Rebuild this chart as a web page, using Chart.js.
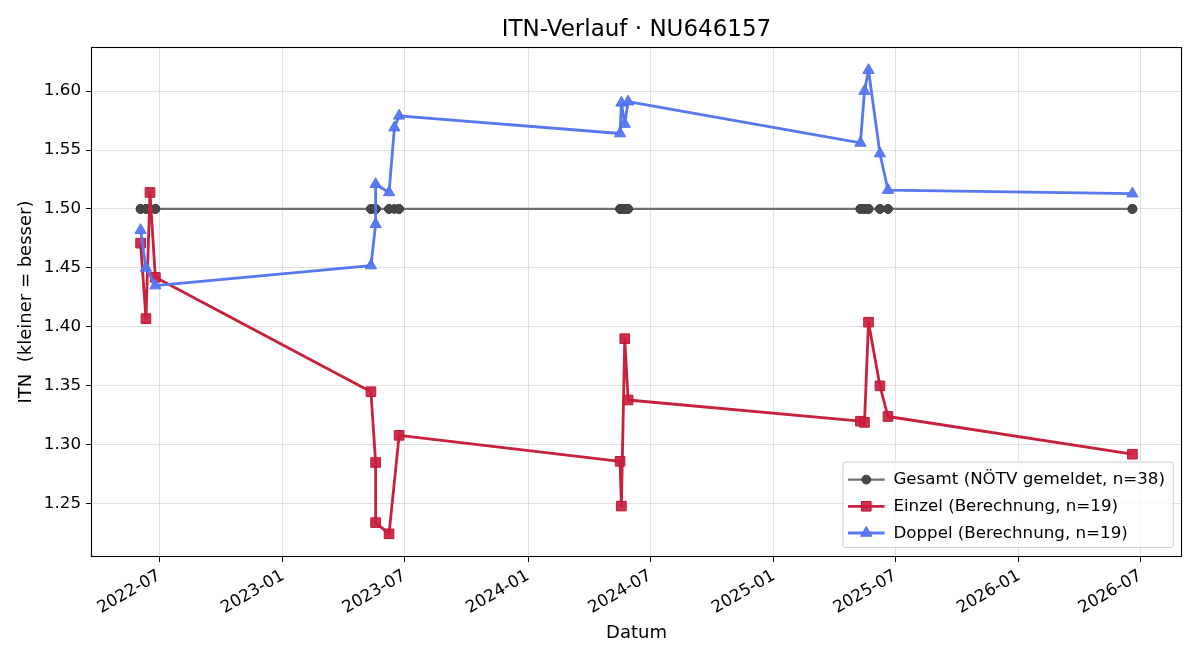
<!DOCTYPE html>
<html>
<head>
<meta charset="utf-8">
<title>ITN-Verlauf</title>
<script src="https://cdn.jsdelivr.net/npm/chart.js@4/dist/chart.umd.min.js"></script>
<style>
  html, body { margin: 0; padding: 0; background: #fff; }
  #chart { display: block; }
</style>
</head>
<body>
<canvas id="chart" width="1200" height="660"></canvas>
<script>
/* Data */
const titleText = 'ITN-Verlauf \u00b7 NU646157';
const xTitle = 'Datum';
const yTitle = 'ITN  (kleiner = besser)';

const xTickLabels = ['2022-07', '2023-01', '2023-07', '2024-01', '2024-07', '2025-01', '2025-07', '2026-01', '2026-07'];
const yTickValues = [1.25, 1.30, 1.35, 1.40, 1.45, 1.50, 1.55, 1.60];

const einzelDates = [
  '2022-06-03', '2022-06-11', '2022-06-17', '2022-06-25',
  '2023-05-12', '2023-05-19', '2023-05-19', '2023-06-08', '2023-06-23',
  '2024-05-17', '2024-05-19', '2024-05-24', '2024-05-29',
  '2025-05-10', '2025-05-16', '2025-05-22', '2025-06-08', '2025-06-20',
  '2026-06-19'
];
const einzelValues = [
  1.471, 1.407, 1.514, 1.442,
  1.345, 1.285, 1.234, 1.2245, 1.308,
  1.286, 1.248, 1.390, 1.338,
  1.320, 1.319, 1.404, 1.350, 1.324,
  1.292
];

const doppelDates = [
  '2022-06-03', '2022-06-11', '2022-06-25',
  '2023-05-12', '2023-05-19', '2023-05-19', '2023-06-08', '2023-06-16', '2023-06-23',
  '2024-05-17', '2024-05-19', '2024-05-24', '2024-05-29',
  '2025-05-10', '2025-05-16', '2025-05-22', '2025-06-08', '2025-06-20',
  '2026-06-19'
];
const doppelValues = [
  1.482, 1.450, 1.435,
  1.452, 1.487, 1.521, 1.514, 1.569, 1.579,
  1.564, 1.590, 1.572, 1.591,
  1.556, 1.600, 1.6177, 1.547, 1.516,
  1.513
];

const gesamtDates = [
  '2022-06-03', '2022-06-03', '2022-06-11', '2022-06-11', '2022-06-17', '2022-06-25', '2022-06-25',
  '2023-05-12', '2023-05-12', '2023-05-19', '2023-05-19', '2023-05-19', '2023-05-19',
  '2023-06-08', '2023-06-08', '2023-06-16', '2023-06-23', '2023-06-23',
  '2024-05-17', '2024-05-17', '2024-05-19', '2024-05-19', '2024-05-24', '2024-05-24', '2024-05-29', '2024-05-29',
  '2025-05-10', '2025-05-10', '2025-05-16', '2025-05-16', '2025-05-22', '2025-05-22',
  '2025-06-08', '2025-06-08', '2025-06-20', '2025-06-20',
  '2026-06-19', '2026-06-19'
];
const gesamtValues = [
  1.5, 1.5, 1.5, 1.5, 1.5, 1.5, 1.5,
  1.5, 1.5, 1.5, 1.5, 1.5, 1.5,
  1.5, 1.5, 1.5, 1.5, 1.5,
  1.5, 1.5, 1.5, 1.5, 1.5, 1.5, 1.5, 1.5,
  1.5, 1.5, 1.5, 1.5, 1.5, 1.5,
  1.5, 1.5, 1.5, 1.5,
  1.5, 1.5
];

/* Helpers */
const toMs = s => Date.parse(s + 'T00:00:00Z');
const pts = (dates, vals) => dates.map((d, i) => ({ x: toMs(d), y: vals[i] }));
const FONT = '"DejaVu Sans", "Liberation Sans", sans-serif';

// matplotlib-style 5% autoscale margins
function padRange(vals) {
  const lo = Math.min(...vals), hi = Math.max(...vals), m = (hi - lo) * 0.05;
  return [lo - m, hi + m];
}
const allX = [...gesamtDates, ...einzelDates, ...doppelDates].map(toMs);
const allY = [...gesamtValues, ...einzelValues, ...doppelValues];
const [xMin, xMax] = padRange(allX);
const [yMin, yMax] = padRange(allY);
const xTickValues = xTickLabels.map(s => toMs(s + '-01'));

/* Plugins: axes frame + title, legend box in lower right */
const frameTitle = {
  id: 'frameTitle',
  afterDraw(chart) {
    const { ctx, chartArea: a } = chart;
    ctx.save();
    ctx.strokeStyle = '#000';
    ctx.lineWidth = 1.1;
    ctx.strokeRect(Math.round(a.left) + 0.5, Math.round(a.top) + 0.5,
                   Math.round(a.right - a.left) - 1, Math.round(a.bottom - a.top) - 1);
    ctx.fillStyle = '#000';
    ctx.font = '23px ' + FONT;
    ctx.textAlign = 'center';
    ctx.textBaseline = 'alphabetic';
    ctx.fillText(titleText, (a.left + a.right) / 2, a.top - 11);
    ctx.restore();
  }
};

const boxLegend = {
  id: 'boxLegend',
  afterDraw(chart) {
    const { ctx, chartArea: a } = chart;
    const sets = chart.data.datasets;
    ctx.save();
    ctx.font = '16.7px ' + FONT;
    const textW = Math.max(...sets.map(d => ctx.measureText(d.label).width));
    const right = a.right - 8.7, bottom = a.bottom - 9.4;
    const rowH = 26.7;
    const h = 85.6, w = 50.5 + textW + 8.3;
    const left = right - w, top = bottom - h;
    // box
    ctx.beginPath();
    ctx.roundRect(left, top, w, h, 3);
    ctx.fillStyle = 'rgba(255,255,255,0.8)';
    ctx.fill();
    ctx.strokeStyle = '#cccccc';
    ctx.lineWidth = 1;
    ctx.stroke();
    sets.forEach((d, i) => {
      const y = top + 17.6 + i * rowH;
      const x0 = left + 5, x1 = left + 41.7, xm = (x0 + x1) / 2;
      ctx.strokeStyle = d.borderColor;
      ctx.lineWidth = d.borderWidth;
      ctx.beginPath(); ctx.moveTo(x0, y); ctx.lineTo(x1, y); ctx.stroke();
      ctx.fillStyle = d.pointBackgroundColor;
      ctx.strokeStyle = d.pointBorderColor;
      ctx.lineWidth = d.pointBorderWidth;
      Chart.helpers.drawPoint(ctx, { pointStyle: d.pointStyle, radius: d.pointRadius, borderWidth: d.pointBorderWidth, rotation: 0 }, xm, y);
      ctx.fillStyle = '#000';
      ctx.textAlign = 'left';
      ctx.textBaseline = 'middle';
      ctx.fillText(d.label, left + 50.5, y + 0.5);
    });
    ctx.restore();
  }
};

Chart.defaults.font.family = FONT;
Chart.defaults.font.size = 16.7;
Chart.defaults.color = '#000';

const gridColor = 'rgba(0,0,0,0.12)';

new Chart(document.getElementById('chart'), {
  type: 'line',
  data: {
    datasets: [
      {
        label: 'Gesamt (N\u00d6TV gemeldet, n=38)',
        data: pts(gesamtDates, gesamtValues),
        borderColor: '#707070', borderWidth: 2.2,
        pointStyle: 'circle', pointRadius: 4.4, pointBorderWidth: 1,
        pointBackgroundColor: '#474747', pointBorderColor: '#404040',
        order: 2
      },
      {
        label: 'Einzel (Berechnung, n=19)',
        data: pts(einzelDates, einzelValues),
        borderColor: 'rgb(201,32,62)', borderWidth: 2.8,
        pointStyle: 'rect', pointRadius: 6.8, pointBorderWidth: 1,
        pointBackgroundColor: 'rgba(201,32,62,0.92)', pointBorderColor: 'rgb(190,25,55)',
        order: 1
      },
      {
        label: 'Doppel (Berechnung, n=19)',
        data: pts(doppelDates, doppelValues),
        borderColor: 'rgb(86,120,240)', borderWidth: 2.8,
        pointStyle: 'triangle', pointRadius: 6.5, pointBorderWidth: 1,
        pointBackgroundColor: 'rgba(86,120,240,0.95)', pointBorderColor: 'rgb(80,112,238)',
        order: 0
      }
    ]
  },
  options: {
    responsive: false,
    animation: false,
    layout: { padding: { top: 47, right: 18, left: 0, bottom: 0 } },
    elements: { line: { tension: 0, fill: false, borderJoinStyle: 'round' } },
    plugins: {
      legend: { display: false },
      title: { display: false },
      tooltip: { enabled: false }
    },
    scales: {
      x: {
        type: 'linear',
        min: xMin, max: xMax,
        bounds: 'data',
        afterBuildTicks: s => { s.ticks = xTickValues.map(v => ({ value: v })); },
        afterFit: s => { s.height = 103; },
        ticks: {
          autoSkip: false, minRotation: 30, maxRotation: 30, padding: 4,
          font: { size: 16.7 },
          callback: (v, i) => xTickLabels[i]
        },
        grid: { color: gridColor, tickColor: '#000', tickLength: 5, lineWidth: 1 },
        border: { display: false },
        title: { display: true, text: xTitle, font: { size: 18 }, padding: { top: 0, bottom: 16.2 } }
      },
      y: {
        type: 'linear',
        min: yMin, max: yMax,
        bounds: 'data',
        afterBuildTicks: s => { s.ticks = yTickValues.map(v => ({ value: v })); },
        afterFit: s => { s.width = 91; },
        ticks: {
          padding: 5, font: { size: 16.7 },
          callback: v => Number(v).toFixed(2)
        },
        grid: { color: gridColor, tickColor: '#000', tickLength: 5, lineWidth: 1 },
        border: { display: false },
        title: { display: true, text: yTitle, font: { size: 18 }, padding: { top: 15.2, bottom: 0 } }
      }
    }
  },
  plugins: [frameTitle, boxLegend]
});
</script>
</body>
</html>
